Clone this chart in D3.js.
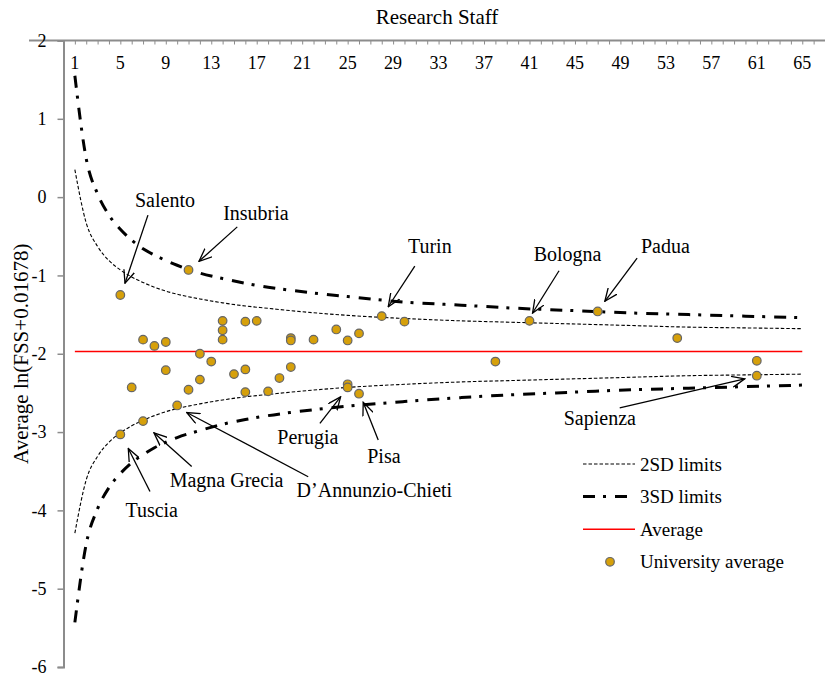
<!DOCTYPE html>
<html>
<head>
<meta charset="utf-8">
<script src="https://cdn.jsdelivr.net/npm/d3@7"></script>
<style>
  body { margin: 0; background: #fff; }
  text { font-family: "Liberation Serif", "Times New Roman", serif; fill: #000; }
</style>
</head>
<body>
<svg id="chart"></svg>
<script>
// x axis: number of research staff, y axis: average ln(FSS+0.01678)
const staffLabels = [1, 5, 9, 13, 17, 21, 25, 29, 33, 37, 41, 45, 49, 53, 57, 61, 65];
const scoreTicks = [2, 1, 0, -1, -2, -3, -4, -5, -6];

// control limits
const limitStaff = [1, 2, 3, 4, 5, 6, 7, 8, 9, 10, 12, 14, 16, 18, 20, 25, 30, 35, 40, 45, 50, 55, 60, 65];
const upper2SD = [0.35, -0.33, -0.63, -0.81, -0.93, -1.02, -1.09, -1.15, -1.20, -1.24, -1.30, -1.35, -1.39, -1.42, -1.45, -1.51, -1.55, -1.58, -1.60, -1.62, -1.64, -1.66, -1.67, -1.68];
const lower2SD = [-4.29, -3.61, -3.31, -3.13, -3.01, -2.92, -2.85, -2.79, -2.74, -2.70, -2.64, -2.59, -2.55, -2.52, -2.49, -2.43, -2.39, -2.36, -2.34, -2.32, -2.30, -2.28, -2.27, -2.26];
const upper3SD = [1.55, 0.49, 0.04, -0.23, -0.41, -0.55, -0.66, -0.74, -0.81, -0.87, -0.97, -1.04, -1.10, -1.15, -1.19, -1.27, -1.34, -1.38, -1.42, -1.45, -1.48, -1.50, -1.52, -1.54];
const lower3SD = [-5.43, -4.43, -3.98, -3.71, -3.53, -3.39, -3.29, -3.20, -3.13, -3.07, -2.98, -2.90, -2.84, -2.79, -2.75, -2.67, -2.61, -2.56, -2.52, -2.49, -2.46, -2.44, -2.42, -2.40];
const averageRange = [1, 65];
const averageScore = -1.97;

// university averages
const uniStaff = [5, 5, 6, 7, 7, 8, 9, 9, 10, 11, 11, 12, 12, 13, 14, 14, 14, 15, 16, 16, 16, 17, 18, 19, 20, 20, 20, 22, 24, 25, 25, 25, 26, 26, 28, 30, 38, 41, 47, 54, 61, 61];
const uniScore = [-1.25, -3.03, -2.43, -1.82, -2.86, -1.90, -1.85, -2.21, -2.66, -0.93, -2.46, -2.00, -2.33, -2.10, -1.58, -1.70, -1.82, -2.26, -1.59, -2.20, -2.49, -1.58, -2.48, -2.31, -1.80, -1.83, -2.17, -1.82, -1.69, -1.83, -2.39, -2.43, -1.74, -2.51, -1.52, -1.59, -2.10, -1.58, -1.46, -1.80, -2.09, -2.28];

// annotations: label point, arrow start, arrow end (in data units)
const notes = [
  { name: 'Salento', at: [8.93, -0.04], from: [7.43, -0.23], to: [5.41, -1.10] },
  { name: 'Insubria', at: [16.93, -0.20], from: [15.29, -0.38], to: [11.92, -0.82] },
  { name: 'Turin', at: [32.23, -0.62], from: [30.91, -0.88], to: [28.57, -1.40] },
  { name: 'Bologna', at: [44.35, -0.72], from: [43.60, -0.94], to: [41.27, -1.48] },
  { name: 'Padua', at: [52.96, -0.63], from: [50.47, -0.78], to: [47.63, -1.33] },
  { name: 'Sapienza', at: [47.19, -2.82], from: [48.94, -2.69], to: [59.94, -2.32] },
  { name: 'Perugia', at: [21.50, -3.06], from: [22.56, -2.89], to: [24.38, -2.55] },
  { name: 'Pisa', at: [28.19, -3.31], from: [27.69, -3.10], to: [26.37, -2.62] },
  { name: 'Magna Grecia', at: [14.35, -3.61], from: [11.28, -3.44], to: [7.96, -3.01] },
  { name: 'Tuscia', at: [7.76, -3.99], from: [7.61, -3.76], to: [5.70, -3.21] },
  { name: 'D\u2019Annunzio-Chieti', at: [20.51, -3.74], from: [21.53, -3.57], to: [10.84, -2.75], anchor: 'start' }
];

const width = 829, height = 677;
const margin = { top: 40.5, right: 4, bottom: 10, left: 63.5 };
const axisGray = '#8c8c8c';

const svg = d3.select('#chart').attr('width', width).attr('height', height);

const x = d3.scaleLinear().domain([0, 67]).range([margin.left, width - margin.right]);
const y = d3.scaleLinear().domain([-6, 2]).range([height - margin.bottom, margin.top]);

svg.append('defs').append('marker')
  .attr('id', 'arrow')
  .attr('markerUnits', 'userSpaceOnUse')
  .attr('viewBox', '0 -6 14 12')
  .attr('refX', 13).attr('refY', 0)
  .attr('markerWidth', 14).attr('markerHeight', 12)
  .attr('orient', 'auto')
  .append('path')
  .attr('d', 'M0,-5.5L13,0L0,5.5')
  .attr('fill', 'none').attr('stroke', '#000').attr('stroke-width', 1.3);

// top (staff) axis
let xAxis = d3.axisTop(x)
  .tickValues(d3.range(1, 67))
  .tickSize(-4)
  .tickFormat('');
let gx = svg.append('g').attr('transform', `translate(0,${y(2)})`).call(xAxis);
gx.select('.domain').remove();
gx.selectAll('.tick line').attr('stroke', axisGray).attr('stroke-width', 1);
svg.append('line')
  .attr('x1', 29).attr('x2', x(67))
  .attr('y1', y(2)).attr('y2', y(2))
  .attr('stroke', axisGray).attr('stroke-width', 2);

svg.append('g').selectAll('text')
  .data(staffLabels)
  .join('text')
  .attr('x', d => x(d))
  .attr('y', y(2) + 22)
  .attr('dy', '0.35em')
  .attr('text-anchor', 'middle')
  .attr('font-size', 18)
  .text(d => d);

svg.append('text')
  .attr('x', 437).attr('y', 24)
  .attr('text-anchor', 'middle')
  .attr('font-size', 21)
  .text('Research Staff');

// left (score) axis
let yAxis = d3.axisLeft(y)
  .tickValues(scoreTicks)
  .tickSize(6)
  .tickPadding(11)
  .tickFormat(d => d < 0 ? '-' + Math.abs(d) : d);
let gy = svg.append('g').attr('transform', `translate(${x(0)},0)`).call(yAxis);
gy.select('.domain').attr('stroke', axisGray).attr('stroke-width', 2);
gy.selectAll('.tick line').attr('stroke', axisGray).attr('stroke-width', 1.5);
gy.selectAll('.tick text')
  .attr('font-family', '"Liberation Serif", "Times New Roman", serif')
  .attr('font-size', 18)
  .attr('fill', '#000');

svg.append('text')
  .attr('transform', `translate(21,${y(-2)}) rotate(-90)`)
  .attr('text-anchor', 'middle')
  .attr('dy', '0.35em')
  .attr('font-size', 21)
  .text('Average ln(FSS+0.01678)');

// limit curves
const curve = d3.line()
  .x(d => x(d[0]))
  .y(d => y(d[1]))
  .curve(d3.curveMonotoneX);

const limits = [
  { values: upper2SD, dash: '3.5,2', w: 1.1 },
  { values: lower2SD, dash: '3.5,2', w: 1.1 },
  { values: upper3SD, dash: '12,8,3,9', w: 3 },
  { values: lower3SD, dash: '12,8,3,9', w: 3 }
];
limits.forEach(l => {
  svg.append('path')
    .datum(limitStaff.map((n, i) => [n, l.values[i]]))
    .attr('d', curve)
    .attr('fill', 'none')
    .attr('stroke', '#000')
    .attr('stroke-width', l.w)
    .attr('stroke-dasharray', l.dash);
});

svg.append('line')
  .attr('x1', x(averageRange[0])).attr('x2', x(averageRange[1]))
  .attr('y1', y(averageScore)).attr('y2', y(averageScore))
  .attr('stroke', '#ff0000').attr('stroke-width', 1.5);

// university dots
svg.append('g').selectAll('circle')
  .data(uniStaff.map((n, i) => [n, uniScore[i]]))
  .join('circle')
  .attr('cx', d => x(d[0]))
  .attr('cy', d => y(d[1]))
  .attr('r', 4.3)
  .attr('fill', '#d6a00a')
  .attr('stroke', '#666')
  .attr('stroke-width', 1.2);

// annotations
const gn = svg.append('g');
notes.forEach(a => {
  gn.append('line')
    .attr('x1', x(a.from[0])).attr('y1', y(a.from[1]))
    .attr('x2', x(a.to[0])).attr('y2', y(a.to[1]))
    .attr('stroke', '#000').attr('stroke-width', 1.3)
    .attr('marker-end', 'url(#arrow)');
  gn.append('text')
    .attr('x', x(a.at[0])).attr('y', y(a.at[1]))
    .attr('dy', '0.35em')
    .attr('text-anchor', a.anchor || 'middle')
    .attr('font-size', 20)
    .text(a.name);
});

// legend
const legend = [
  { name: '2SD limits', type: 'line', dash: '3.5,2', w: 1.1, color: '#000' },
  { name: '3SD limits', type: 'line', dash: '12,8,3,9', w: 3, color: '#000' },
  { name: 'Average', type: 'line', dash: null, w: 1.5, color: '#ff0000' },
  { name: 'University average', type: 'dot' }
];
const lg = svg.append('g').attr('transform', 'translate(583,464)');
legend.forEach((d, i) => {
  let row = lg.append('g').attr('transform', `translate(0,${i * 32.6})`);
  if (d.type === 'line') {
    row.append('line')
      .attr('x1', 0).attr('x2', d.name === '3SD limits' ? 45 : 52)
      .attr('stroke', d.color).attr('stroke-width', d.w)
      .attr('stroke-dasharray', d.dash);
  } else {
    row.append('circle')
      .attr('cx', 27).attr('r', 4.3)
      .attr('fill', '#d6a00a').attr('stroke', '#666').attr('stroke-width', 1.2);
  }
  row.append('text')
    .attr('x', 57).attr('dy', '0.35em')
    .attr('font-size', 19)
    .text(d.name);
});
</script>
</body>
</html>
